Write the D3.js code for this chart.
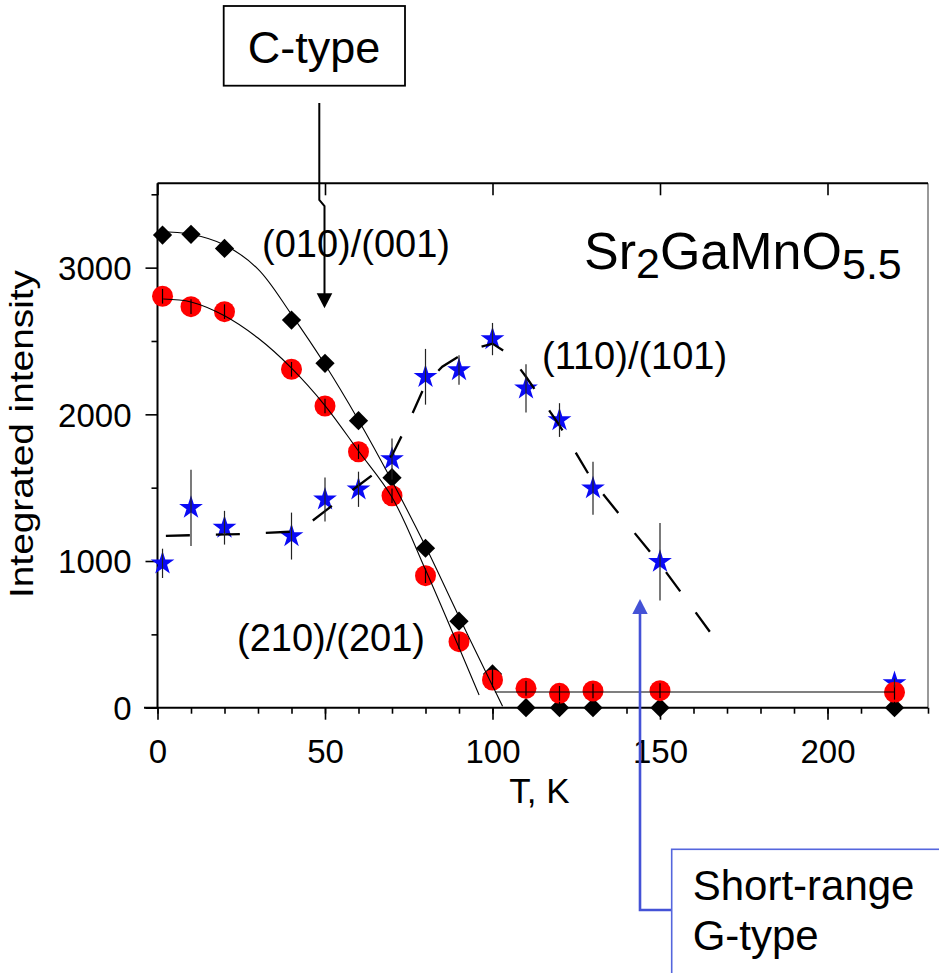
<!DOCTYPE html>
<html>
<head>
<meta charset="utf-8">
<script src="https://cdn.jsdelivr.net/npm/d3@7"></script>
<style>
html, body { margin: 0; padding: 0; background: #fff; }
svg { display: block; font-family: "Liberation Sans", Arial, Helvetica, sans-serif; }
</style>
</head>
<body>
<svg id="chart" width="939" height="973"></svg>
<script>
"use strict";

/*
*  DATA
*/

// measured temperatures, K
var temps = [1.5, 10, 20, 40, 50, 60, 70, 80, 90, 100, 110, 120, 130, 150, 220];

// (010)/(001) - black diamonds
var iC010 = [3222, 3227, 3131, 2643, 2348, 1957, 1568, 1087, 590, 230, 0, 0, 0, 0, 0];
var eC010 = [40, 40, 40, 40, 40, 40, 40, 40, 40, 40, 40, 40, 40, 40, 40];

// (210)/(201) - red circles
var iC210 = [2805, 2734, 2700, 2307, 2057, 1745, 1445, 900, 450, 189, 132, 98, 114, 116, 105];
var eC210 = [50, 50, 50, 50, 50, 50, 50, 50, 50, 50, 50, 50, 50, 50, 50];

// (110)/(101) - blue stars
var iG110 = [984, 1363, 1227, 1170, 1420, 1489, 1695, 2256, 2302, 2513, 2177, 1961, 1496, 995, 168];
var eG110 = [100, 260, 115, 160, 150, 120, 140, 190, 100, 110, 165, 115, 180, 265, 30];

// fitted curves
var fitC010T = [0.3, 10, 20, 30, 40, 50, 60, 70, 80, 90, 100, 103];
var fitC010I = [3245, 3228, 3155, 2990, 2680, 2340, 1960, 1545, 1100, 620, 150, 10];

var fitC210T = [1.7, 10, 20, 30, 40, 50, 60, 70, 80, 90, 96];
var fitC210I = [2786, 2766, 2672, 2520, 2315, 2060, 1750, 1435, 940, 410, 87];

var flatC210T = [100.7, 220];
var flatC210I = [107, 107];

var fitG110T = [2.5, 12, 25, 40, 44, 50, 60, 65, 70, 75, 80, 85, 90, 95, 100, 105, 110, 120, 130, 140, 150, 160, 168];
var fitG110I = [1172, 1177, 1184, 1200, 1235, 1340, 1515, 1600, 1720, 1950, 2205, 2325, 2395, 2450, 2482, 2409, 2256, 1925, 1541, 1258, 980, 670, 420];

// axes
var xMajor = [0, 50, 100, 150, 200];
var xMinor = d3.range(0, 231, 10);
var yMajor = [0, 1000, 2000, 3000];
var yMinor = [500, 1500, 2500, 3500];

/*
*  DRAW
*/

var svg = d3.select('#chart');
var x = d3.scaleLinear().domain([0, 230]).range([157.5, 928]);
var y = d3.scaleLinear().domain([0, 3575]).range([707.7, 183.3]);

function zip(a, b) {
  return a.map(function (d, i) { return [d, b[i]]; });
}

// right frame
svg.append('line').attr('x1', x(230)).attr('x2', x(230)).attr('y1', y(3575)).attr('y2', y(0))
  .attr('stroke', '#777').attr('stroke-width', 1.5);

// bottom axis
var gx = svg.append('g').attr('transform', 'translate(0,' + y(0) + ')');
gx.call(d3.axisBottom(x).tickValues(xMinor).tickSize(6).tickFormat('').tickSizeOuter(0));
gx.select('.domain').remove();
var gx2 = svg.append('g').attr('transform', 'translate(0,' + y(0) + ')');
gx2.call(d3.axisBottom(x).tickValues(xMajor).tickSize(12).tickPadding(20).tickFormat(d3.format('d')).tickSizeOuter(0));
gx2.select('.domain').remove();
gx2.selectAll('text').attr('font-size', 33).attr('fill', '#000');
svg.selectAll('.tick line').attr('stroke', '#000').attr('stroke-width', 1.6);
svg.append('line').attr('x1', x(0) - 13.5).attr('x2', x(230)).attr('y1', y(0)).attr('y2', y(0))
  .attr('stroke', '#000').attr('stroke-width', 2);

// top axis (ticks inward)
var gt = svg.append('g').attr('transform', 'translate(0,' + y(3575) + ')');
gt.call(d3.axisBottom(x).tickValues(xMinor).tickSize(6).tickFormat('').tickSizeOuter(0));
gt.call(d3.axisBottom(x).tickValues(xMajor).tickSize(12).tickFormat('').tickSizeOuter(0));
gt.selectAll('.domain').remove();
gt.selectAll('line').attr('stroke', '#000').attr('stroke-width', 1.6);
svg.append('line').attr('x1', x(0)).attr('x2', x(230)).attr('y1', y(3575)).attr('y2', y(3575))
  .attr('stroke', '#000').attr('stroke-width', 2);

// left axis
var gy = svg.append('g').attr('transform', 'translate(' + x(0) + ',0)');
gy.call(d3.axisLeft(y).tickValues(yMinor).tickSize(6).tickFormat('').tickSizeOuter(0));
gy.select('.domain').remove();
var gy2 = svg.append('g').attr('transform', 'translate(' + x(0) + ',0)');
gy2.call(d3.axisLeft(y).tickValues(yMajor).tickSize(12).tickPadding(14).tickFormat(d3.format('d')).tickSizeOuter(0));
gy2.select('.domain').remove();
gy2.selectAll('text').attr('font-size', 33).attr('fill', '#000').attr('dy', '0.36em');
gy.selectAll('line').attr('stroke', '#000').attr('stroke-width', 1.6);
gy2.selectAll('line').attr('stroke', '#000').attr('stroke-width', 1.6);
svg.append('line').attr('x1', x(0)).attr('x2', x(0)).attr('y1', y(3575)).attr('y2', y(0))
  .attr('stroke', '#000').attr('stroke-width', 2);

// axis titles
svg.append('text').attr('x', x(114)).attr('y', 803).attr('text-anchor', 'middle')
  .attr('font-size', 35).text('T, K');
svg.append('text').attr('transform', 'translate(33,434) rotate(-90)').attr('text-anchor', 'middle')
  .attr('font-size', 33).attr('textLength', 328).attr('lengthAdjust', 'spacingAndGlyphs')
  .text('Integrated intensity');

// markers
var star = d3.symbol().type(d3.symbolStar).size(175);
var square = d3.symbol().type(d3.symbolSquare).size(185);

svg.append('g').selectAll('path').data(zip(temps, iG110)).enter().append('path')
  .attr('d', star)
  .attr('transform', function (d) { return 'translate(' + x(d[0]) + ',' + y(d[1]) + ')'; })
  .attr('fill', '#0a0af5');

svg.append('g').selectAll('path').data(zip(temps, iC010)).enter().append('path')
  .attr('d', square)
  .attr('transform', function (d) { return 'translate(' + x(d[0]) + ',' + y(d[1]) + ') rotate(45)'; })
  .attr('fill', '#000');

svg.append('g').selectAll('circle').data(zip(temps, iC210)).enter().append('circle')
  .attr('cx', function (d) { return x(d[0]); })
  .attr('cy', function (d) { return y(d[1]); })
  .attr('r', 10.5)
  .attr('fill', '#ff0000');

// fits
var smooth = d3.line().x(function (d) { return x(d[0]); }).y(function (d) { return y(d[1]); })
  .curve(d3.curveCatmullRom.alpha(0.5));
var straight = d3.line().x(function (d) { return x(d[0]); }).y(function (d) { return y(d[1]); });

svg.append('path').attr('d', smooth(zip(fitC010T, fitC010I)))
  .attr('fill', 'none').attr('stroke', '#000').attr('stroke-width', 1.1);
svg.append('path').attr('d', smooth(zip(fitC210T, fitC210I)))
  .attr('fill', 'none').attr('stroke', '#000').attr('stroke-width', 1.1);
svg.append('path').attr('d', straight(zip(flatC210T, flatC210I)))
  .attr('fill', 'none').attr('stroke', '#000').attr('stroke-width', 1.1);
svg.append('path').attr('d', straight(zip(fitG110T, fitG110I)))
  .attr('fill', 'none').attr('stroke', '#000').attr('stroke-width', 2.3)
  .attr('stroke-dasharray', '24,26');

// error bars
function errBars(vals, errs, col) {
  svg.append('g').selectAll('line').data(temps).enter().append('line')
    .attr('x1', function (d) { return x(d); })
    .attr('x2', function (d) { return x(d); })
    .attr('y1', function (d, i) { return y(vals[i] - errs[i]); })
    .attr('y2', function (d, i) { return y(vals[i] + errs[i]); })
    .attr('stroke', col).attr('stroke-width', 1.2);
}
errBars(iC010, eC010, '#000');
errBars(iC210, eC210, '#000');
errBars(iG110, eG110, '#222');

// labels
svg.append('text').attr('x', 262).attr('y', 257).attr('font-size', 38).text('(010)/(001)');
svg.append('text').attr('x', 542).attr('y', 369).attr('font-size', 38).text('(110)/(101)');
svg.append('text').attr('x', 237).attr('y', 651).attr('font-size', 38).text('(210)/(201)');

var formula = svg.append('text').attr('x', 584).attr('y', 269).attr('font-size', 52);
formula.append('tspan').text('Sr');
formula.append('tspan').attr('font-size', 43).attr('dy', 9).text('2');
formula.append('tspan').attr('dy', -9).text('GaMnO');
formula.append('tspan').attr('font-size', 43).attr('dy', 10).text('5.5');

// C-type callout
svg.append('rect').attr('x', 223.7).attr('y', 6).attr('width', 181.3).attr('height', 79.7)
  .attr('fill', '#fff').attr('stroke', '#000').attr('stroke-width', 1.8);
svg.append('text').attr('x', 314).attr('y', 63).attr('text-anchor', 'middle')
  .attr('font-size', 45).text('C-type');
svg.append('path').attr('d', 'M319.3,103V200L324.5,206V295')
  .attr('fill', 'none').attr('stroke', '#000').attr('stroke-width', 2);
svg.append('path').attr('d', 'M316.7,293.3L332.3,293.3L324.5,308.3Z').attr('fill', '#000');

// Short-range G-type callout
var blue = '#4452d6';
svg.append('path').attr('d', 'M640,614V910H672')
  .attr('fill', 'none').attr('stroke', blue).attr('stroke-width', 2.6);
svg.append('path').attr('d', 'M632.3,614L647.7,614L640,599Z').attr('fill', blue);
svg.append('rect').attr('x', 671.7).attr('y', 849.3).attr('width', 300).attr('height', 200)
  .attr('fill', '#fff').attr('stroke', '#5566dd').attr('stroke-width', 1.6);
svg.append('text').attr('x', 692.7).attr('y', 900).attr('font-size', 42).text('Short-range');
svg.append('text').attr('x', 692.7).attr('y', 950).attr('font-size', 42).text('G-type');
</script>
</body>
</html>
